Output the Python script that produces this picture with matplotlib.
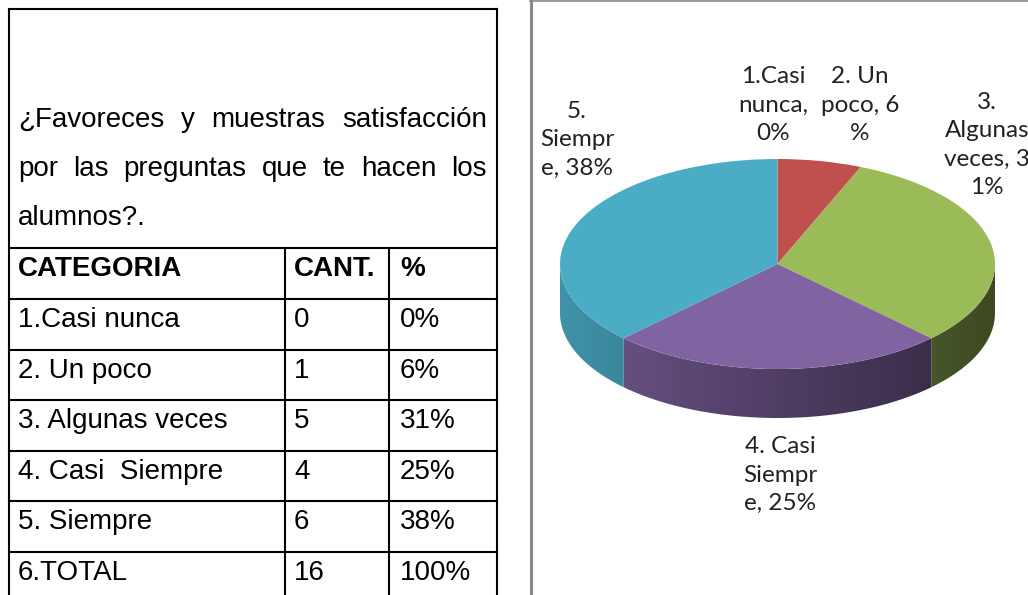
import numpy as np
import matplotlib.pyplot as plt
from matplotlib.patches import Polygon
from matplotlib.colors import to_rgb

# table content
title_lines = ['¿Favoreces y muestras satisfacción',
               'por las preguntas que te hacen los',
               'alumnos?.']
header = ['CATEGORIA', 'CANT.', '%']
categorias = ['1.Casi nunca', '2. Un poco', '3. Algunas veces',
              '4. Casi  Siempre', '5. Siempre', '6.TOTAL']
cantidad = [0, 1, 5, 4, 6, 16]
porcentaje = ['0%', '6%', '31%', '25%', '38%', '100%']

# pie content (first five rows, total excluded)
pie_values = cantidad[:5]
pie_colors = ['#4F81BD', '#C0504D', '#9BBB59', '#8064A2', '#4BACC6']
pie_labels = ['1.Casi\nnunca,\n0%', '2. Un\npoco, 6\n%', '3.\nAlgunas\nveces, 3\n1%',
              '4. Casi\nSiempr\ne, 25%', '5.\nSiempr\ne, 38%']
label_xy = [(773, 105), (860, 105), (987, 145), (780, 475), (577, 140)]

W, H = 1028, 595
fig = plt.figure(figsize=(W / 100, H / 100), dpi=100)
ax = fig.add_axes([0, 0, 1, 1])
ax.set_xlim(0, W)
ax.set_ylim(H, 0)
ax.axis('off')

# ---- table grid ----
lw = 1.5
L, R, T = 9, 497, 9
rows_y = [248, 299, 350, 400, 451, 501, 552]
cols_x = [285, 389]
ax.plot([L, R], [T, T], color='black', lw=lw)
ax.plot([L, L], [T, H], color='black', lw=lw)
ax.plot([R, R], [T, H], color='black', lw=lw)
for y in rows_y:
    ax.plot([L, R], [y, y], color='black', lw=lw)
for x in cols_x:
    ax.plot([x, x], [rows_y[0], H], color='black', lw=lw)

tfont = dict(family='Liberation Sans', fontsize=20, color='black', va='baseline')

# justified title
renderer = fig.canvas.get_renderer()
x_left, x_right = 18, 487
baselines = [127, 176, 225]
for i, line in enumerate(title_lines):
    words = line.split()
    if i == len(title_lines) - 1:
        ax.text(x_left, baselines[i], line, ha='left', **tfont)
        continue
    txts = [ax.text(0, baselines[i], w, ha='left', **tfont) for w in words]
    widths = [t.get_window_extent(renderer).width for t in txts]
    gap = (x_right - x_left - sum(widths)) / (len(words) - 1)
    x = x_left
    for t, wd in zip(txts, widths):
        t.set_x(x)
        x += wd + gap

col_text_x = [18, 294, 400]
for j, h in enumerate(header):
    ax.text(col_text_x[j], rows_y[0] + 28, h, ha='left', fontweight='bold', **tfont)
for i in range(len(categorias)):
    y = rows_y[i + 1] + 28
    ax.text(col_text_x[0], y, categorias[i], ha='left', **tfont)
    ax.text(col_text_x[1], y, str(cantidad[i]), ha='left', **tfont)
    ax.text(col_text_x[2], y, porcentaje[i], ha='left', **tfont)

# ---- chart panel border ----
ax.plot([530.5, 530.5], [0, H], color='#898989', lw=2.2)
ax.plot([530, W], [0.5, 0.5], color='#898989', lw=1.2)

# ---- pseudo 3D pie ----
cx, cy, a, b, depth = 777.5, 264, 217.5, 105, 49
pax = fig.add_axes([0, 0, 1, 1])
pax.patch.set_alpha(0)
wedges, _ = pax.pie(pie_values, colors=pie_colors, startangle=90, counterclock=False,
                    radius=1, center=(0, 0), wedgeprops=dict(linewidth=0))
for w in wedges:
    w.set_zorder(3)
pax.set_aspect('auto')
pax.set_xlim(-cx / a, (W - cx) / a)
pax.set_ylim((cy - H) / b, cy / b)
pax.axis('off')

# side wall: one polygon per slice, filled with a left-to-right shading gradient
d = depth / b
total = sum(pie_values)
gx = np.linspace(-1, 1, 400)
shade = 0.62 - 0.23 * gx
start = 0.0
for v, col in zip(pie_values, pie_colors):
    frac = v / total
    a1 = 90 - 360 * start
    a0 = 90 - 360 * (start + frac)
    start += frac
    lo, hi = max(a0, -180), min(a1, 0)
    if hi <= lo:
        continue
    ts = np.radians(np.linspace(lo, hi, 200))
    top = np.column_stack([np.cos(ts), np.sin(ts)])
    bot = np.column_stack([np.cos(ts[::-1]), np.sin(ts[::-1]) - d])
    poly = Polygon(np.vstack([top, bot]), closed=True, facecolor='none',
                   edgecolor='none', zorder=2)
    pax.add_patch(poly)
    grad = np.clip(np.array(to_rgb(col))[None, None, :] * shade[None, :, None], 0, 1)
    im = pax.imshow(grad, extent=(-1, 1, -1 - d, 0.05), aspect='auto',
                    interpolation='bilinear', zorder=2)
    im.set_clip_path(poly)

pax.set_aspect('auto')
pax.set_xlim(-cx / a, (W - cx) / a)
pax.set_ylim((cy - H) / b, cy / b)

for lab, (x, y) in zip(pie_labels, label_xy):
    ax.text(x, y, lab, ha='center', va='center', multialignment='center',
            family='Lato', fontsize=17.5, color='#222222', linespacing=1.42,
            zorder=5)

fig.savefig('out.png', dpi=100)
